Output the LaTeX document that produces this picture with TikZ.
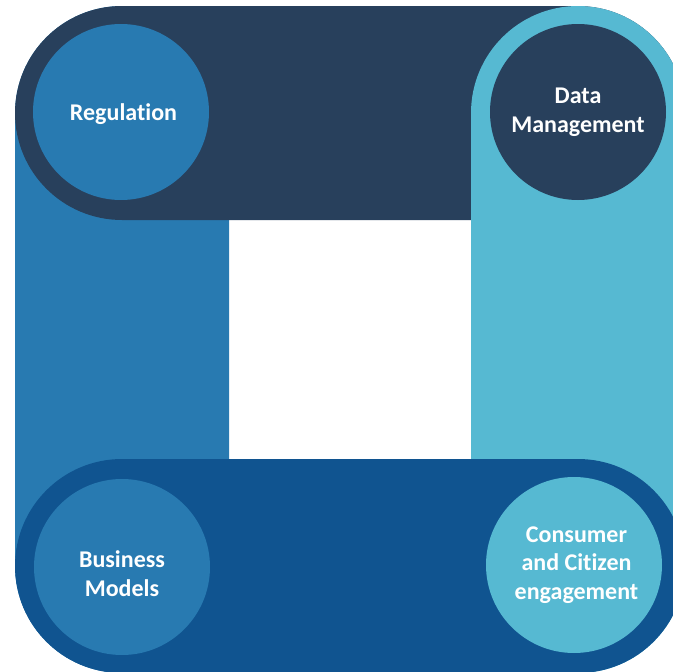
\documentclass[tikz,border=0pt]{standalone}
\usepackage{fontspec}
\setmainfont{Carlito}[Ligatures=NoCommon]
\definecolor{navy}{RGB}{40,64,92}
\definecolor{midblue}{RGB}{40,122,177}
\definecolor{lightblue}{RGB}{86,185,210}
\definecolor{deepblue}{RGB}{16,84,144}
\tikzset{
  band/.style={rounded corners=107pt},
  disc/.style={circle,minimum size=176pt,inner sep=0pt,text=white,align=center,
    font=\fontsize{24}{28.5}\selectfont\bfseries},
}
\begin{document}
\begin{tikzpicture}[x=1pt,y=-1pt]
\useasboundingbox (0,0) rectangle (673,672);
\clip (0,0) rectangle (673,672);
% left band
\fill[midblue,band] (15,6) rectangle (229,673);
% top band
\fill[navy,band] (15,6) rectangle (685,220);
% right band
\fill[lightblue,band] (471,6) rectangle (685,673);
% bottom band
\fill[deepblue,band] (15,459) rectangle (685,673);
% circles
\node[disc,fill=midblue] (reg) at (121,112) {\hspace*{5pt}\raisebox{-2pt}[\height][\depth]{Regulation}};
\node[disc,fill=navy] (data) at (578,112) {\parbox{150pt}{\centering Data\\Management}};
\node[disc,fill=midblue] (bus) at (122,567) {\raisebox{-7pt}[\height][\depth]{\parbox{150pt}{\centering Business\\[0.5pt]Models}}};
\node[disc,fill=lightblue] (cons) at (574,565) {\parbox{150pt}{\centering\hspace*{5pt}Consumer\\\hspace*{5pt}and Citizen\\\hspace*{5pt}engagement}};
\end{tikzpicture}
\end{document}
